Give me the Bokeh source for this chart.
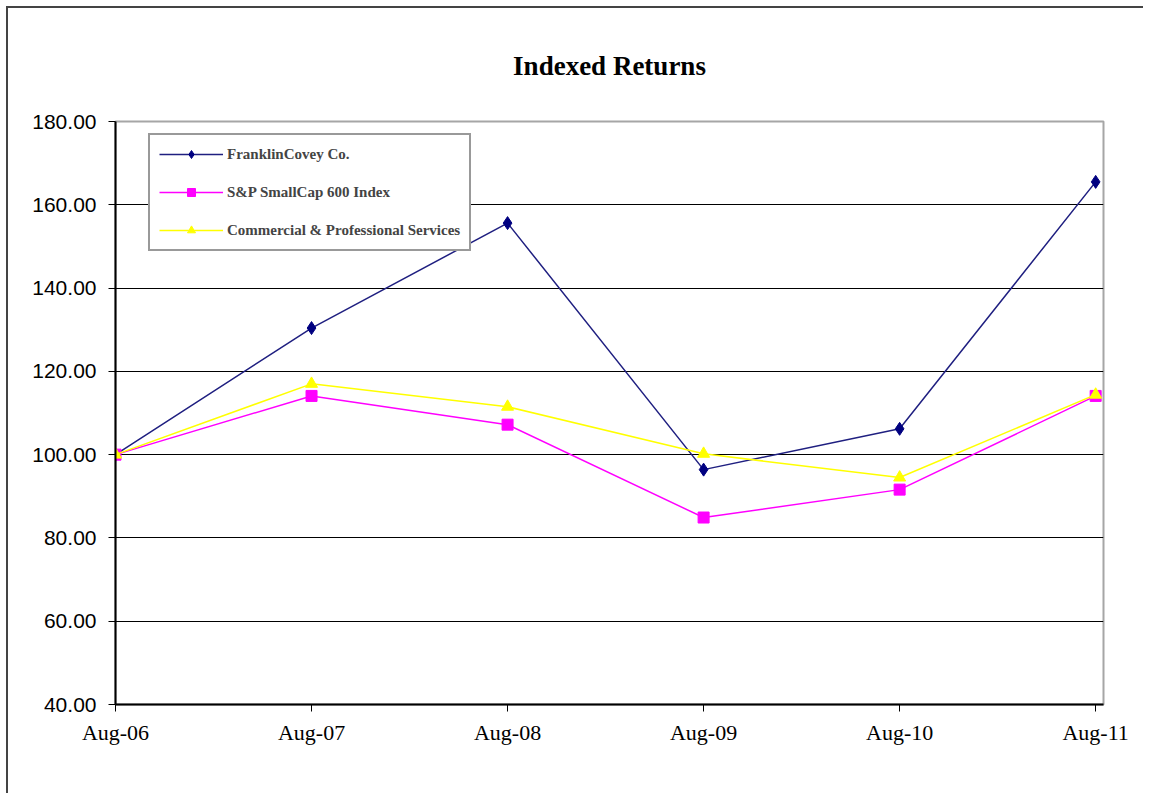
from bokeh.plotting import figure
from bokeh.models import Range1d, FixedTicker, Legend, LegendItem
from bokeh.embed import file_html
from bokeh.resources import INLINE

# ---- data ----
periods = ["Aug-06", "Aug-07", "Aug-08", "Aug-09", "Aug-10", "Aug-11"]
franklin = [100.00, 130.4, 155.6, 96.4, 106.2, 165.5]
sp600 = [100.00, 114.1, 107.2, 84.9, 91.6, 114.1]
commercial = [100.00, 117.0, 111.5, 100.2, 94.5, 114.4]
y_ticks = [40, 60, 80, 100, 120, 140, 160, 180]
series_names = ["FranklinCovey Co.", "S&P SmallCap 600 Index",
                "Commercial & Professional Services"]

xs = list(range(len(periods)))

p = figure(width=1135, height=784, output_backend="svg", toolbar_location=None,
           x_range=Range1d(0, 5.04), y_range=Range1d(40, 180),
           frame_width=988, frame_height=583,
           min_border_left=107, min_border_top=112,
           min_border_right=40, min_border_bottom=89)
p.styles = {"border-top": "2px solid #444", "border-left": "2px solid #444",
            "margin-left": "6px", "margin-top": "6px"}
p.background_fill_color = "white"
p.border_fill_color = "white"
p.outline_line_color = "#a6a6a6"
p.outline_line_width = 2

# title
p.title.text = "Indexed Returns"
p.title.align = "center"
p.title.text_font = "Liberation Serif"
p.title.text_font_size = "27px"
p.title.text_font_style = "bold"
p.title.text_color = "black"
p.title.standoff = 81

# axes
p.xaxis.ticker = FixedTicker(ticks=xs)
p.xaxis.major_label_overrides = {i: s for i, s in enumerate(periods)}
p.yaxis.ticker = FixedTicker(ticks=y_ticks)
p.yaxis.major_label_overrides = {v: f"{v:.2f}" for v in y_ticks}
for ax in (p.xaxis[0], p.yaxis[0]):
    ax.axis_line_color = "black"
    ax.axis_line_width = 2
    ax.major_tick_line_color = "black"
    ax.major_tick_line_width = 1
    ax.major_tick_in = 0
    ax.major_tick_out = 7
    ax.minor_tick_line_color = None
p.xaxis.major_label_text_font = "Liberation Serif"
p.xaxis.major_label_text_font_size = "22px"
p.xaxis.major_label_standoff = 8
p.yaxis.major_label_text_font = "Liberation Sans"
p.yaxis.major_label_text_font_size = "21px"
p.yaxis.major_label_standoff = 12
p.xaxis.major_label_text_color = "black"
p.yaxis.major_label_text_color = "black"

p.xgrid.grid_line_color = None
p.ygrid.ticker = FixedTicker(ticks=y_ticks[1:-1])
p.ygrid.grid_line_color = "black"
p.ygrid.grid_line_width = 1

# series
l1 = p.line(xs, franklin, line_color="#1f1f80", line_width=1.5)
m1 = p.scatter(xs, franklin, marker="diamond", size=13, fill_color="#000080",
               line_color="#000080")
l2 = p.line(xs, sp600, line_color="#ff00ff", line_width=1.5)
m2 = p.scatter(xs, sp600, marker="square", size=11, fill_color="#ff00ff",
               line_color="#ff00ff")
l3 = p.line(xs, commercial, line_color="#ffff00", line_width=1.5)
m3 = p.scatter(xs, commercial, marker="triangle", size=12, fill_color="#ffff00",
               line_color="#ffff00")

legend = Legend(items=[LegendItem(label=series_names[0], renderers=[l1, m1]),
                       LegendItem(label=series_names[1], renderers=[l2, m2]),
                       LegendItem(label=series_names[2], renderers=[l3, m3])],
                location=(33, 453))
legend.label_text_font = "Liberation Serif"
legend.label_text_font_size = "15px"
legend.label_text_font_style = "bold"
legend.glyph_width = 64
legend.glyph_height = 20
legend.label_height = 20
legend.spacing = 18
legend.padding = 9
legend.margin = 0
legend.label_standoff = 4
legend.border_line_color = "#333333"
legend.border_line_width = 2
legend.background_fill_alpha = 1
p.add_layout(legend)

open("out.html", "w").write(file_html(p, INLINE))
